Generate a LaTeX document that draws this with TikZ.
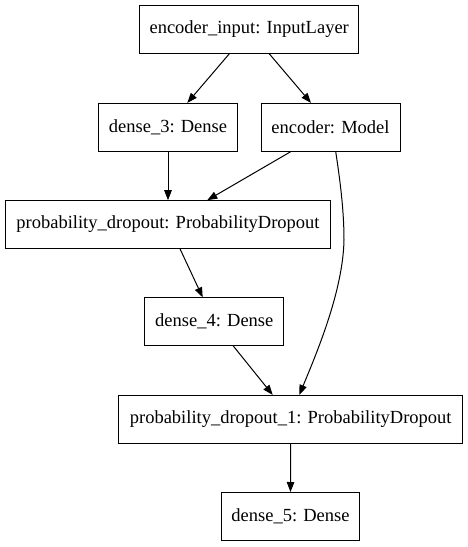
\documentclass[tikz,border=0pt]{standalone}
\usepackage{fontspec}
\setmainfont{Liberation Serif}
\usetikzlibrary{arrows.meta}
\begin{document}
\begin{tikzpicture}[x=1pt,y=-1pt,
  layer/.style={draw=black,line width=1pt,rectangle,inner sep=0pt,minimum height=47.6pt,font=\fontsize{18.5}{22}\selectfont},
  conn/.style={line width=1pt,-{Triangle[length=10pt,width=7.5pt]}}]
\useasboundingbox (0,0) rectangle (468,547);
\node[layer,minimum width=219pt] (ei) at (249.2,29.5) {encoder\_input: InputLayer};
\node[layer,minimum width=138.6pt] (d3) at (168,127.2) {dense\_3: Dense};
\node[layer,minimum width=139pt] (enc) at (330.5,127.2) {encoder: Model};
\node[layer,minimum width=325.4pt] (pd) at (168,224.5) {probability\_dropout: ProbabilityDropout};
\node[layer,minimum width=138.7pt] (d4) at (214.3,321.7) {dense\_4: Dense};
\node[layer,minimum width=344pt] (pd1) at (290.7,419.2) {probability\_dropout\_1: ProbabilityDropout};
\node[layer,minimum width=138.4pt] (d5) at (290.5,516.3) {dense\_5: Dense};
\coordinate (bend) at (344,240);
\draw[conn] ([xshift=-19.9pt]ei.south) -- ([xshift=19.3pt]d3.north);
\draw[conn] ([xshift=20.1pt]ei.south) -- ([xshift=-19.5pt]enc.north);
\draw[conn] (d3.south) -- (pd.north);
\draw[conn] ([xshift=-39.5pt]enc.south) -- ([xshift=39.3pt]pd.north);
\draw[conn] ([xshift=5.2pt]enc.south) .. controls (340,180) and (344,210) .. (bend) .. controls (343,290) and (318,350) .. ([xshift=8.6pt]pd1.north);
\draw[conn] ([xshift=12pt]pd.south) -- ([xshift=-11.6pt]d4.north);
\draw[conn] ([xshift=19pt]d4.south) -- ([xshift=-18pt]pd1.north);
\draw[conn] (pd1.south) -- (d5.north);
\end{tikzpicture}
\end{document}
